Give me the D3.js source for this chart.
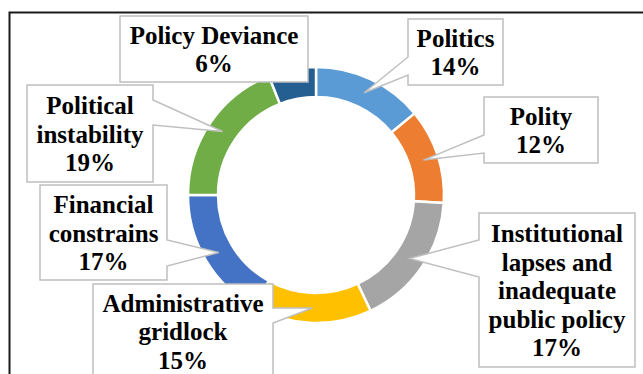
<!DOCTYPE html>
<html>
<head>
<meta charset="utf-8">
<script src="https://cdn.jsdelivr.net/npm/d3@7"></script>
<style>
  body { margin: 0; background: #fff; }
  svg { display: block; }
</style>
</head>
<body>
<div id="chart"></div>
<script>
// categories, clockwise from 12 o'clock
const categories = [
  "Politics",
  "Polity",
  "Institutional lapses and inadequate public policy",
  "Administrative gridlock",
  "Financial constrains",
  "Political instability",
  "Policy Deviance"
];
const labelLines = [
  ["Politics"],
  ["Polity"],
  ["Institutional", "lapses and", "inadequate", "public policy"],
  ["Administrative", "gridlock"],
  ["Financial", "constrains"],
  ["Political", "instability"],
  ["Policy Deviance"]
];
const values = [14, 12, 17, 15, 17, 19, 6];
const colors = ["#5B9BD5", "#ED7D31", "#A5A5A5", "#FFC000", "#4472C4", "#70AD47", "#255E91"];

// callout boxes: x, y, w, h, notch side and notch span (y)
const boxes = [
  { x: 408, y: 19, w: 95, h: 66, side: "left", n1: 57, n2: 75 },
  { x: 484, y: 97, w: 114, h: 66, side: "left", n1: 135, n2: 153 },
  { x: 479, y: 213, w: 156, h: 154, side: "left", n1: 240, n2: 277 },
  { x: 93, y: 284, w: 180, h: 94, side: "right", n1: 308, n2: 323 },
  { x: 40, y: 185, w: 127, h: 95, side: "right", n1: 240, n2: 266 },
  { x: 27, y: 85, w: 126, h: 97, side: "right", n1: 100, n2: 125 },
  { x: 120, y: 16, w: 188, h: 66, side: "none" }
];

const W = 643, H = 374;
const cx = 316, cy = 195, outerR = 128, innerR = 98;
const lineH = 28.5;
const fontStack = "'Liberation Serif', 'Times New Roman', Tinos, serif";

const svg = d3.select("#chart").append("svg")
  .attr("width", W)
  .attr("height", H);

// chart frame (runs off the right and bottom of the crop)
svg.append("rect")
  .attr("x", 9.5).attr("y", 12.5)
  .attr("width", 700).attr("height", 420)
  .attr("fill", "none")
  .attr("stroke", "#1a1a1a")
  .attr("stroke-width", 2);

const pie = d3.pie().sort(null).value(d => d);
const arcs = pie(values);

const arc = d3.arc().innerRadius(innerR).outerRadius(outerR);
const midArc = d3.arc().innerRadius((innerR + outerR) / 2).outerRadius((innerR + outerR) / 2);

const g = svg.append("g").attr("transform", `translate(${cx},${cy})`);

g.selectAll(".slice")
  .data(arcs)
  .enter()
  .append("path")
  .attr("class", "slice")
  .attr("d", arc)
  .attr("fill", (d, i) => colors[i])
  .attr("stroke", "#fff")
  .attr("stroke-width", 2.5);

// callouts
function calloutPath(b, tip) {
  const x0 = b.x, y0 = b.y, x1 = b.x + b.w, y1 = b.y + b.h;
  if (b.side == "left") {
    return `M${x0},${y0}H${x1}V${y1}H${x0}V${b.n2}L${tip[0]},${tip[1]}L${x0},${b.n1}Z`;
  } else if (b.side == "right") {
    return `M${x0},${y0}H${x1}V${b.n1}L${tip[0]},${tip[1]}L${x1},${b.n2}V${y1}H${x0}Z`;
  }
  return `M${x0},${y0}H${x1}V${y1}H${x0}Z`;
}

const labels = svg.selectAll(".callout")
  .data(arcs)
  .enter()
  .append("g")
  .attr("class", "callout");

labels.append("path")
  .attr("d", (d, i) => {
    const c = midArc.centroid(d);
    return calloutPath(boxes[i], [cx + c[0], cy + c[1]]);
  })
  .attr("fill", "#fff")
  .attr("stroke", "#BFBFBF")
  .attr("stroke-width", 1.5)
  .attr("stroke-linejoin", "miter");

labels.each(function (d, i) {
  const b = boxes[i];
  const lines = labelLines[i].concat([d.data + "%"]);
  const n = lines.length;
  const midY = b.y + b.h / 2;
  d3.select(this).selectAll("text")
    .data(lines)
    .enter()
    .append("text")
    .attr("x", b.x + b.w / 2)
    .attr("y", (t, k) => midY + (k - (n - 1) / 2) * lineH + 9)
    .attr("text-anchor", "middle")
    .style("font-family", fontStack)
    .style("font-weight", "bold")
    .style("font-size", "25px")
    .style("fill", "#000")
    .text(t => t);
});
</script>
</body>
</html>
